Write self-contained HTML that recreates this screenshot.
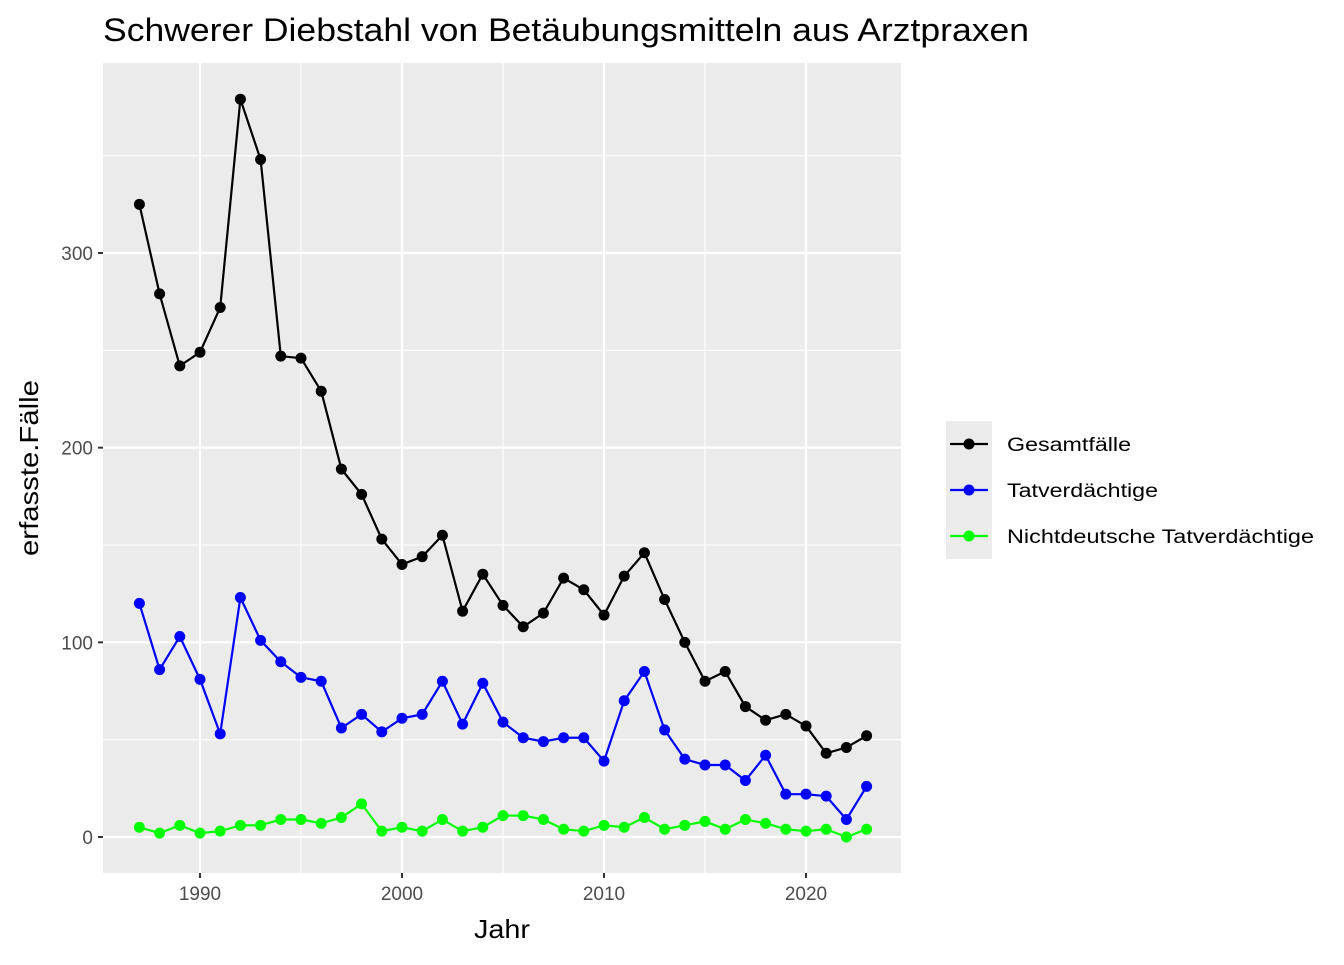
<!DOCTYPE html>
<html><head><meta charset="utf-8"><style>
body{margin:0;background:#fff;font-family:"Liberation Sans",sans-serif}
</style></head><body>
<svg id="chart" width="1344" height="960" xmlns="http://www.w3.org/2000/svg" font-family="Liberation Sans, sans-serif">
<text x="103" y="41" font-size="32" fill="#000" textLength="926" lengthAdjust="spacingAndGlyphs">Schwerer Diebstahl von Betäubungsmitteln aus Arztpraxen</text>
<rect x="103" y="63" width="798" height="810" fill="#ebebeb"/>
<g id="grid"></g>
<g id="series"></g>
<g id="axes"></g>
<text x="502" y="938" font-size="26" text-anchor="middle" textLength="56" lengthAdjust="spacingAndGlyphs">Jahr</text>
<text transform="translate(38,468) rotate(-90)" font-size="26" text-anchor="middle" textLength="176" lengthAdjust="spacingAndGlyphs">erfasste.Fälle</text>
<g>
<rect x="946" y="421" width="46" height="138" fill="#ebebeb"/>
<g id="legend"></g>
</g>
</svg>
<script>
const years=[1987,1988,1989,1990,1991,1992,1993,1994,1995,1996,1997,1998,1999,2000,2001,2002,2003,2004,2005,2006,2007,2008,2009,2010,2011,2012,2013,2014,2015,2016,2017,2018,2019,2020,2021,2022,2023];
const gesamt=[325,279,242,249,272,379,348,247,246,229,189,176,153,140,144,155,116,135,119,108,115,133,127,114,134,146,122,100,80,85,67,60,63,57,43,46,52];
const tatverd=[120,86,103,81,53,123,101,90,82,80,56,63,54,61,63,80,58,79,59,51,49,51,51,39,70,85,55,40,37,37,29,42,22,22,21,9,26];
const nichtdeutsch=[5,2,6,2,3,6,6,9,9,7,10,17,3,5,3,9,3,5,11,11,9,4,3,6,5,10,4,6,8,4,9,7,4,3,4,0,4];
const seriesNames=["Gesamtfälle","Tatverdächtige","Nichtdeutsche Tatverdächtige"];
const seriesColors=["#000000","#0000ff","#00ff00"];
const legendWidths=[124,151,307];
const xTicks=[1990,2000,2010,2020];
const yTicks=[0,100,200,300];
const NS="http://www.w3.org/2000/svg";
const X=v=>200+(v-1990)*20.2;
const Y=v=>837-v*1.9467;
function mk(tag,attrs,parent){const e=document.createElementNS(NS,tag);for(const k in attrs)e.setAttribute(k,attrs[k]);parent.appendChild(e);return e;}
const grid=document.getElementById('grid'),axes=document.getElementById('axes'),ser=document.getElementById('series'),leg=document.getElementById('legend');
[50,150,250,350].forEach(v=>{const l=mk('line',{x1:103,x2:901,y1:Y(v),y2:Y(v),stroke:'#fff','stroke-width':1.1},grid);

});
[1995,2005,2015].forEach(v=>{const l=mk('line',{x1:X(v),x2:X(v),y1:63,y2:873,stroke:'#fff','stroke-width':1.1},grid);

});
yTicks.forEach(v=>{const l=mk('line',{x1:103,x2:901,y1:Y(v),y2:Y(v),stroke:'#fff','stroke-width':2.2},grid);


const t=mk('line',{x1:98,x2:103,y1:Y(v),y2:Y(v),stroke:'#333','stroke-width':2},axes);


const tx=mk('text',{x:93,y:Y(v)+7,'font-size':19,fill:'#4d4d4d','text-anchor':'end'},axes);tx.textContent=v;

});
xTicks.forEach(v=>{const l=mk('line',{x1:X(v),x2:X(v),y1:63,y2:873,stroke:'#fff','stroke-width':2.2},grid);


const t=mk('line',{x1:X(v),x2:X(v),y1:873,y2:878,stroke:'#333','stroke-width':2},axes);


const tx=mk('text',{x:X(v),y:900,'font-size':19,fill:'#4d4d4d','text-anchor':'middle'},axes);tx.textContent=v;

});
[gesamt,tatverd,nichtdeutsch].forEach((vals,i)=>{
const g=mk('g',{},ser);


const p=mk('polyline',{points:vals.map((v,j)=>X(years[j])+','+Y(v)).join(' '),fill:'none',stroke:seriesColors[i],'stroke-width':2.2},g);


vals.forEach((v,j)=>{const c=mk('circle',{cx:X(years[j]),cy:Y(v),r:5.5,fill:seriesColors[i]},g);

});
const ly=444+i*46;
const ll=mk('line',{x1:950,x2:988,y1:ly,y2:ly,stroke:seriesColors[i],'stroke-width':2.2},leg);


const lc=mk('circle',{cx:969,cy:ly,r:5.5,fill:seriesColors[i]},leg);


const lt=mk('text',{x:1007,y:ly+7,'font-size':19,fill:'#000',textLength:legendWidths[i],lengthAdjust:'spacingAndGlyphs'},leg);lt.textContent=seriesNames[i];


});
</script>
</body></html>
